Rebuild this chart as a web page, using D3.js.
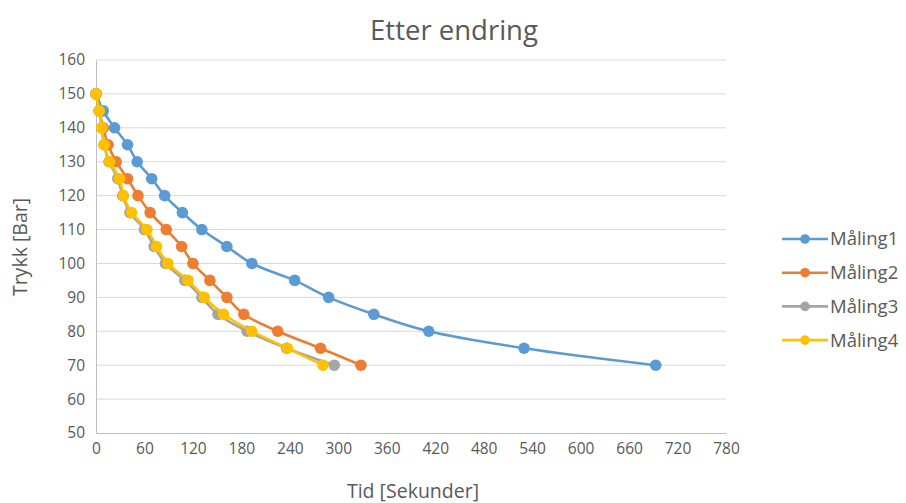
<!DOCTYPE html>
<html>
<head>
<meta charset="utf-8">
<script src="https://cdn.jsdelivr.net/npm/d3@7"></script>
<style>
  html, body { margin: 0; padding: 0; background: #fff; }
  svg text { font-family: "Open Sans", "Noto Sans", sans-serif; fill: #595959; }
</style>
</head>
<body>
<svg id="chart" width="906" height="503"></svg>
<script>
// Pressure levels (bar) recorded in each measurement run
const pressure = [150, 145, 140, 135, 130, 125, 120, 115, 110, 105, 100, 95, 90, 85, 80, 75, 70];

// Elapsed time (seconds) at which each pressure level was reached
const maling1 = [0, 9, 23, 39, 51, 69, 85, 107, 131, 162, 193, 246, 288, 344, 412, 530, 693];
const maling2 = [0, 4, 9, 15, 25, 39, 52, 67, 87, 106, 120, 141, 162, 183, 225, 278, 328];
const maling3 = [0, 4, 7, 10, 16, 27, 33, 42, 60, 72, 86, 110, 131, 151, 187, 236, 295];
const maling4 = [0, 4, 7, 10, 17, 29, 34, 44, 63, 75, 89, 114, 134, 158, 193, 237, 281];

const seriesNames = ["Måling1", "Måling2", "Måling3", "Måling4"];
const seriesColors = ["#5B9BD5", "#ED7D31", "#A5A5A5", "#FFC000"];
const xTicks = [0, 60, 120, 180, 240, 300, 360, 420, 480, 540, 600, 660, 720, 780];
const yTicks = [50, 60, 70, 80, 90, 100, 110, 120, 130, 140, 150, 160];

const series = [maling1, maling2, maling3, maling4].map((times, i) => ({
  name: seriesNames[i],
  color: seriesColors[i],
  points: times.map((t, j) => ({ t, p: pressure[j] }))
}));

const svg = d3.select("#chart");
const plot = { left: 96, right: 726, top: 60, bottom: 433 };

const x = d3.scaleLinear().domain([0, 780]).range([plot.left, plot.right]);
const y = d3.scaleLinear().domain([50, 160]).range([plot.bottom, plot.top]);

// Horizontal gridlines
svg.append("g")
  .selectAll("line")
  .data(yTicks.filter(v => v !== 50))
  .join("line")
  .attr("x1", plot.left).attr("x2", plot.right)
  .attr("y1", d => y(d)).attr("y2", d => y(d))
  .attr("stroke", "#d9d9d9").attr("stroke-width", 1);

// X axis
const xAxis = svg.append("g")
  .attr("transform", `translate(0,${plot.bottom})`)
  .call(d3.axisBottom(x).tickValues(xTicks).tickSize(0).tickPadding(10));
xAxis.select(".domain").attr("stroke", "#bfbfbf").attr("stroke-width", 1);
xAxis.selectAll("text").style("font-size", "15.5px").attr("fill", "#595959");

// Y axis
const yAxis = svg.append("g")
  .attr("transform", `translate(${plot.left},0)`)
  .call(d3.axisLeft(y).tickValues(yTicks).tickSize(0).tickPadding(11));
yAxis.select(".domain").attr("stroke", "#bfbfbf").attr("stroke-width", 1);
yAxis.selectAll("text").style("font-size", "15.5px").attr("fill", "#595959");

// Title and axis titles
svg.append("text")
  .attr("x", 454).attr("y", 40)
  .attr("text-anchor", "middle")
  .style("font-size", "27.5px")
  .text("Etter endring");

svg.append("text")
  .attr("x", 413).attr("y", 498)
  .attr("text-anchor", "middle")
  .style("font-size", "19.5px")
  .text("Tid [Sekunder]");

svg.append("text")
  .attr("transform", "translate(27,247) rotate(-90)")
  .attr("text-anchor", "middle")
  .style("font-size", "19.5px")
  .text("Trykk [Bar]");

// Smoothed lines with circular markers
const line = d3.line()
  .x(d => x(d.t))
  .y(d => y(d.p))
  .curve(d3.curveCatmullRom.alpha(0.5));

const groups = svg.append("g")
  .selectAll("g")
  .data(series)
  .join("g");

groups.append("path")
  .attr("d", d => line(d.points))
  .attr("fill", "none")
  .attr("stroke", d => d.color)
  .attr("stroke-width", 2.6)
  .attr("stroke-linejoin", "round");

groups.selectAll("circle")
  .data(d => d.points.map(p => ({ ...p, color: d.color })))
  .join("circle")
  .attr("cx", d => x(d.t))
  .attr("cy", d => y(d.p))
  .attr("r", 5.8)
  .attr("fill", d => d.color);

// Legend
const legend = svg.append("g")
  .selectAll("g")
  .data(series)
  .join("g")
  .attr("transform", (d, i) => `translate(782,${239 + i * 33.7})`);

legend.append("line")
  .attr("x1", 0).attr("x2", 46)
  .attr("stroke", d => d.color).attr("stroke-width", 2.6);
legend.append("circle")
  .attr("cx", 23).attr("r", 4.8)
  .attr("fill", d => d.color);
legend.append("text")
  .attr("x", 48).attr("dy", "0.35em")
  .style("font-size", "18.5px")
  .text(d => d.name);
</script>
</body>
</html>
